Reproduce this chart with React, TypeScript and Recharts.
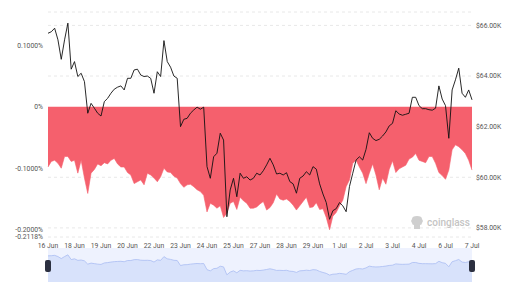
import { ComposedChart, Area, Line, XAxis, YAxis, CartesianGrid } from "recharts";

const tickLabels = [
  "16 Jun", "18 Jun", "19 Jun", "20 Jun", "22 Jun", "23 Jun", "24 Jun", "25 Jun", "27 Jun",
  "28 Jun", "29 Jun", "1 Jul", "2 Jul", "3 Jul", "4 Jul", "6 Jul", "7 Jul",
];

// BTC price, $K
const price = [
  65.69, 65.75, 65.89, 65.43, 64.66, 65.43, 66.09, 64.27, 64.57, 63.98, 64.11, 63.78, 62.53, 62.92, 62.73, 62.53,
  62.42, 62.99, 63.12, 63.32, 63.48, 63.56, 63.61, 63.45, 63.91, 63.91, 64.24, 64.27, 64.04, 63.98, 64.0, 63.91,
  63.32, 64.17, 63.98, 65.4, 64.57, 64.35, 64.0, 63.91, 62.0, 62.29, 62.33, 62.53, 62.66, 62.77, 62.69, 62.77,
  60.42, 59.96, 60.81, 60.95, 61.74, 61.47, 58.44, 59.5, 59.96, 59.23, 60.16, 59.96, 60.02, 59.89, 59.96, 60.16,
  60.09, 60.26, 60.49, 60.75, 60.49, 60.13, 60.16, 60.09, 60.18, 59.83, 59.74, 59.37, 59.96, 60.05, 60.22, 60.09,
  60.42, 60.32, 59.74, 59.34, 59.0, 58.34, 58.68, 58.76, 59.0, 58.87, 58.64, 59.63, 60.16, 60.68, 60.81, 60.68,
  61.1, 61.76, 61.54, 61.45, 61.5, 61.63, 61.79, 62.03, 62.13, 62.63, 62.5, 62.45, 62.49, 62.53, 63.16, 63.16,
  62.83, 62.71, 62.71, 62.67, 62.65, 62.73, 63.61, 63.09, 62.83, 61.54, 63.45, 63.85, 64.31, 63.32, 63.16, 63.45,
  63.06,
];

// funding rate, %
const fundingRate = [
  -0.098, -0.089, -0.087, -0.092, -0.1, -0.081, -0.081, -0.089, -0.087, -0.108, -0.087, -0.116, -0.141, -0.108, -0.102, -0.093,
  -0.096, -0.091, -0.093, -0.087, -0.084, -0.093, -0.098, -0.098, -0.107, -0.111, -0.125, -0.122, -0.119, -0.127, -0.108, -0.111,
  -0.116, -0.122, -0.114, -0.1, -0.106, -0.107, -0.113, -0.116, -0.125, -0.131, -0.127, -0.126, -0.13, -0.135, -0.138, -0.144,
  -0.171, -0.157, -0.16, -0.165, -0.161, -0.18, -0.173, -0.157, -0.154, -0.167, -0.147, -0.153, -0.157, -0.165, -0.165, -0.163,
  -0.158, -0.154, -0.168, -0.164, -0.156, -0.142, -0.15, -0.152, -0.15, -0.154, -0.16, -0.168, -0.161, -0.154, -0.147, -0.164,
  -0.163, -0.156, -0.167, -0.166, -0.18, -0.2, -0.178, -0.172, -0.161, -0.152, -0.13, -0.119, -0.092, -0.087, -0.098, -0.108,
  -0.125, -0.108, -0.093, -0.111, -0.135, -0.116, -0.126, -0.102, -0.088, -0.107, -0.101, -0.098, -0.095, -0.085, -0.082, -0.076,
  -0.087, -0.089, -0.091, -0.081, -0.081, -0.092, -0.107, -0.112, -0.118, -0.103, -0.07, -0.062, -0.065, -0.07, -0.076, -0.087,
  -0.103,
];

const rateTicks = [0.1, 0, -0.1, -0.2, -0.2118];
const priceTicks = [58, 60, 62, 64, 66];
const xTicks = tickLabels.map((_, k) => k * 8);

const data = price.map((p, i) => ({ i, price: p, rate: fundingRate[i] }));

const fmtRate = (v: number) => (v === 0 ? "0%" : `${v.toFixed(4)}%`);
const fmtPrice = (v: number) => `$${v.toFixed(2)}K`;
const fmtDate = (v: number) => tickLabels[Math.round(v / 8)];

// plain grey tick text, so nothing picks up axis colours
const makeTick = (fmt: (v: number) => string, dy: string) => (props: any) => (
  <text
    x={props.x}
    y={props.y}
    dy={dy}
    textAnchor={props.textAnchor}
    fill="#555"
    fontSize={6.8}
    fontFamily="Roboto"
  >
    {fmt(props.payload.value)}
  </text>
);

function Watermark() {
  return (
    <div style={{ position: "absolute", left: 410, top: 215, display: "flex", alignItems: "center" }}>
      <svg width="14" height="15" viewBox="0 0 14 15">
        <path d="M2 4 Q2 1 7 1 Q12 1 12 4 L13 6 L12 8 Q12 10 10 10 L10 14 L4 14 L4 10 Q2 10 2 8 L1 6 Z" fill="#cfcfcf" />
      </svg>
      <span style={{ marginLeft: 3, fontFamily: "Roboto", fontWeight: 500, fontSize: 10, color: "#c4c4c4" }}>
        coinglass
      </span>
    </div>
  );
}

function Handle({ x }: { x: number }) {
  return (
    <div
      style={{
        position: "absolute",
        left: x - 3,
        top: 259.5,
        width: 6,
        height: 12,
        background: "#2c3040",
        borderRadius: 2,
      }}
    />
  );
}

export default function App() {
  return (
    <div style={{ position: "absolute", left: 0, top: 0, width: 512, height: 297, background: "#fff" }}>
      <ComposedChart width={512} height={252} data={data} margin={{ top: 12, right: 0, bottom: 0, left: 0 }}>
        <CartesianGrid yAxisId="right" vertical={false} stroke="#e8e8e8" strokeDasharray="3 3" />
        <XAxis
          dataKey="i"
          type="number"
          domain={[0, 128]}
          ticks={xTicks}
          axisLine={false}
          tickLine={false}
          tickSize={0}
          tickMargin={6}
          height={15}
          tick={makeTick(fmtDate, "0.71em")}
          interval={0}
        />
        <YAxis
          yAxisId="left"
          orientation="left"
          width={48}
          domain={[-0.2118, 0.154]}
          ticks={rateTicks}
          axisLine={false}
          tickLine={false}
          tickSize={0}
          tickMargin={5}
          tick={makeTick(fmtRate, "0.355em")}
          interval={0}
        />
        <YAxis
          yAxisId="right"
          orientation="right"
          width={40}
          domain={[57.64, 66.53]}
          ticks={priceTicks}
          axisLine={false}
          tickLine={false}
          tickSize={0}
          tickMargin={4}
          tick={makeTick(fmtPrice, "0.355em")}
          interval={0}
        />
        <Area
          yAxisId="left"
          dataKey="rate"
          type="linear"
          baseValue={0}
          stroke="#f5606d"
          strokeWidth={0.6}
          fill="#f5606d"
          fillOpacity={1}
          isAnimationActive={false}
        />
        <Line
          yAxisId="right"
          dataKey="price"
          type="linear"
          stroke="#111"
          strokeWidth={0.9}
          dot={false}
          isAnimationActive={false}
        />
      </ComposedChart>
      <Watermark />
      <div style={{ position: "absolute", left: 48, top: 248, width: 424, height: 34, background: "#eef2fe" }} />
      <div style={{ position: "absolute", left: 0, top: 248 }}>
        <ComposedChart width={512} height={34} data={data} margin={{ top: 0, right: 40, bottom: 0, left: 48 }}>
          <XAxis dataKey="i" type="number" domain={[0, 128]} hide />
          <YAxis domain={[55.7, 68.7]} hide />
          <Area
            dataKey="price"
            type="linear"
            baseValue="dataMin"
            stroke="#a9bcf3"
            strokeWidth={0.8}
            fill="#d8e2fb"
            fillOpacity={1}
            isAnimationActive={false}
          />
        </ComposedChart>
      </div>
      <Handle x={48} />
      <Handle x={472} />
    </div>
  );
}
